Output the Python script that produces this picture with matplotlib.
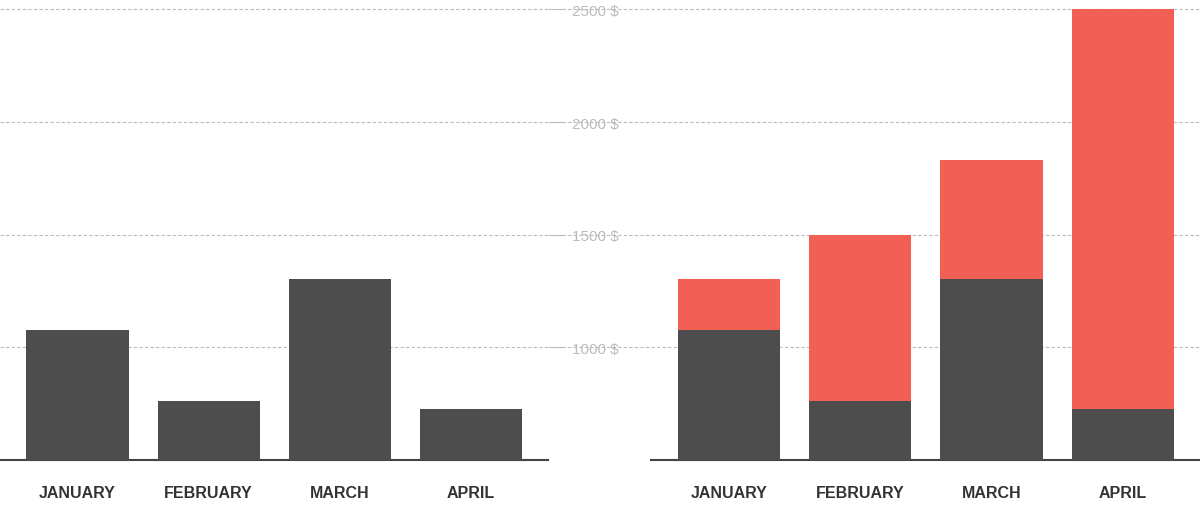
import matplotlib.pyplot as plt

months = ['JANUARY', 'FEBRUARY', 'MARCH', 'APRIL']
base_values = [1075, 760, 1305, 725]
total_values = [1305, 1500, 1830, 2500]
y_ticks = [1000, 1500, 2000, 2500]

dark = '#4d4d4d'
red = '#f25f54'
plt.rcParams['font.family'] = ['Liberation Sans', 'DejaVu Sans']

fig = plt.figure(figsize=(12, 5.06), dpi=100)
W, H = 1200, 506
bottom = (H - 461) / H
height = 461 / H
ax1 = fig.add_axes([0, bottom, 548 / W, height])
ax2 = fig.add_axes([651 / W, bottom, 549 / W, height])

x = range(len(months))
ax1.bar(x, [v - 500 for v in base_values], bottom=500, width=0.78, color=dark, zorder=3)
ax2.bar(x, [v - 500 for v in total_values], bottom=500, width=0.78, color=red, zorder=3)
ax2.bar(x, [v - 500 for v in base_values], bottom=500, width=0.78, color=dark, zorder=4)

for ax in (ax1, ax2):
    ax.set_xlim(-0.592, 3.588)
    ax.set_ylim(500, 2546)
    for s in ('top', 'right', 'left'):
        ax.spines[s].set_visible(False)
    ax.spines['bottom'].set_color('#444444')
    ax.spines['bottom'].set_linewidth(1.5)
    ax.set_xticks(list(x))
    ax.set_xticklabels(months, fontsize=11.5, fontweight='bold', color='#333333')
    ax.tick_params(axis='x', length=0, pad=18)
    ax.set_yticks(y_ticks)
    ax.tick_params(axis='y', length=0)
    for t in y_ticks:
        ax.axhline(t, color='#bbbbbb', lw=0.8, ls=(0, (3, 2)), zorder=1)

ax1.set_yticklabels([])
ax2.set_yticklabels([f'{t} $' for t in y_ticks], fontsize=11, color='#bbbbbb')
ax2.tick_params(axis='y', pad=23)
# extend gridlines through the gap between panels
for t in y_ticks:
    ax2.plot([-1.35, -0.592], [t, t], color='#bbbbbb', lw=0.8, ls=(0, (3, 2)),
             clip_on=False, zorder=1)
    ax1.plot([3.588, 3.7], [t, t], color='#bbbbbb', lw=0.8, ls=(0, (3, 2)),
             clip_on=False, zorder=1)

fig.savefig('out.png', dpi=100)
